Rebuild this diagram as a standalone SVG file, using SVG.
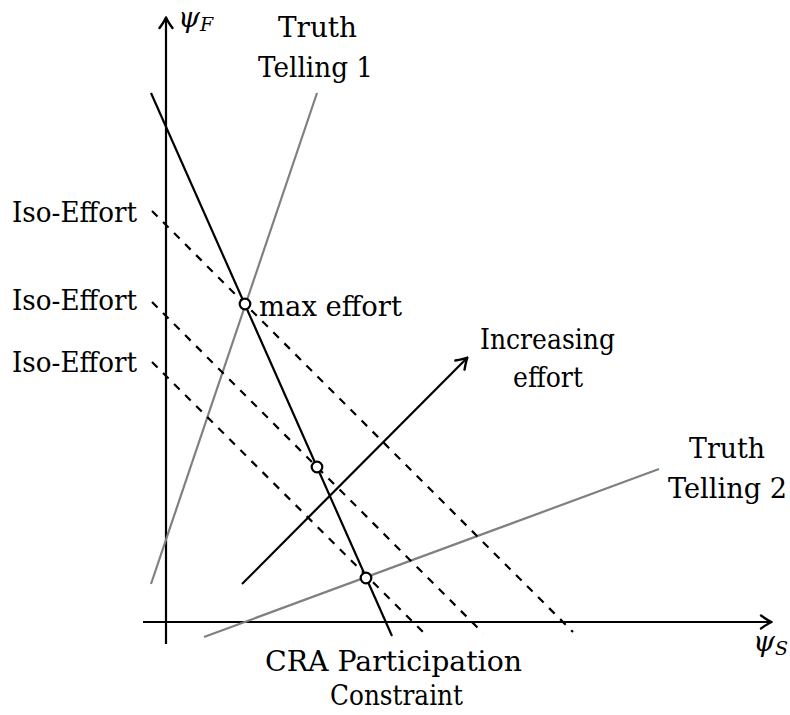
<svg xmlns="http://www.w3.org/2000/svg" width="790" height="715" viewBox="0 0 790 715">
  <style>
    .lbl { font-size: 28px; fill: #000; }
    .sym { font-style: italic; }
    .sub { font-size: 19px; font-style: italic; }
    .axis, .solid { stroke: #000; stroke-width: 2.2; fill: none; }
    .gray { stroke: #808080; stroke-width: 2.2; fill: none; }
    .dash { stroke: #000; stroke-width: 2.2; fill: none; stroke-dasharray: 7.8 7.8; }
    .dot { fill: #fff; stroke: #000; stroke-width: 2.2; }
  </style>
  <defs>
    <marker id="tip" viewBox="-14 -9 16 18" markerWidth="16" markerHeight="18" refX="0" refY="0" orient="auto" markerUnits="userSpaceOnUse">
      <path d="M -10 -6.5 Q -3.5 -1.8 0.6 0 Q -3.5 1.8 -10 6.5" fill="none" stroke="#000" stroke-width="2.4" stroke-linecap="round" stroke-linejoin="round"/>
    </marker>
  </defs>

  <rect width="790" height="715" fill="#fff"/>

  <g font-family="DejaVu Serif, serif">
  <!-- coordinate axes -->
  <g id="axes">
    <line class="axis" x1="166" y1="644" x2="166" y2="18" marker-end="url(#tip)"/>
    <line class="axis" x1="143" y1="622" x2="771" y2="622" marker-end="url(#tip)"/>
    <text class="lbl" x="178" y="27"><tspan class="sym">ψ</tspan><tspan class="sub" dy="4">F</tspan></text>
    <text class="lbl" x="753" y="651"><tspan class="sym">ψ</tspan><tspan class="sub" dy="4">S</tspan></text>
  </g>

  <!-- constraint lines, iso-effort lines and direction of increasing effort -->
  <g id="connectors">
    <line id="truth-telling-1" class="gray" x1="151" y1="584" x2="317" y2="93"/>
    <line id="truth-telling-2" class="gray" x1="204" y1="637" x2="659" y2="469"/>
    <line id="cra-participation" class="solid" x1="151" y1="93" x2="392" y2="636"/>
    <line id="iso-effort-1" class="dash" x1="152" y1="211" x2="573" y2="632"/>
    <line id="iso-effort-2" class="dash" x1="152" y1="302" x2="483" y2="633"/>
    <line id="iso-effort-3" class="dash" x1="152" y1="362" x2="427" y2="636"/>
    <line id="increasing-effort" class="solid" x1="242" y1="584" x2="467" y2="358" marker-end="url(#tip)"/>
  </g>

  <!-- intersection points -->
  <g id="point-max-effort">
    <circle class="dot" cx="245" cy="304" r="5.3"/>
    <text class="lbl" x="259" y="316" textLength="143" lengthAdjust="spacingAndGlyphs">max effort</text>
  </g>
  <g id="point-middle">
    <circle class="dot" cx="317" cy="467" r="5.3"/>
  </g>
  <g id="point-low">
    <circle class="dot" cx="366" cy="578" r="5.3"/>
  </g>

  <!-- labels -->
  <g id="label-truth-telling-1">
    <text class="lbl" x="278" y="37" textLength="79" lengthAdjust="spacingAndGlyphs">Truth</text>
    <text class="lbl" x="258" y="77" textLength="115" lengthAdjust="spacingAndGlyphs">Telling 1</text>
  </g>
  <g id="label-truth-telling-2">
    <text class="lbl" x="689" y="458" textLength="76" lengthAdjust="spacingAndGlyphs">Truth</text>
    <text class="lbl" x="668" y="498" textLength="119" lengthAdjust="spacingAndGlyphs">Telling 2</text>
  </g>
  <g id="label-iso-effort">
    <text class="lbl" x="12" y="222" textLength="125" lengthAdjust="spacingAndGlyphs">Iso-Effort</text>
    <text class="lbl" x="12" y="310" textLength="125" lengthAdjust="spacingAndGlyphs">Iso-Effort</text>
    <text class="lbl" x="12" y="372" textLength="125" lengthAdjust="spacingAndGlyphs">Iso-Effort</text>
  </g>
  <g id="label-increasing-effort">
    <text class="lbl" x="480" y="349" textLength="135" lengthAdjust="spacingAndGlyphs">Increasing</text>
    <text class="lbl" x="513" y="387" textLength="70" lengthAdjust="spacingAndGlyphs">effort</text>
  </g>
  <g id="label-cra">
    <text class="lbl" x="265" y="671" textLength="257" lengthAdjust="spacingAndGlyphs">CRA Participation</text>
    <text class="lbl" x="330" y="705" textLength="133" lengthAdjust="spacingAndGlyphs">Constraint</text>
  </g>
  </g>
</svg>
